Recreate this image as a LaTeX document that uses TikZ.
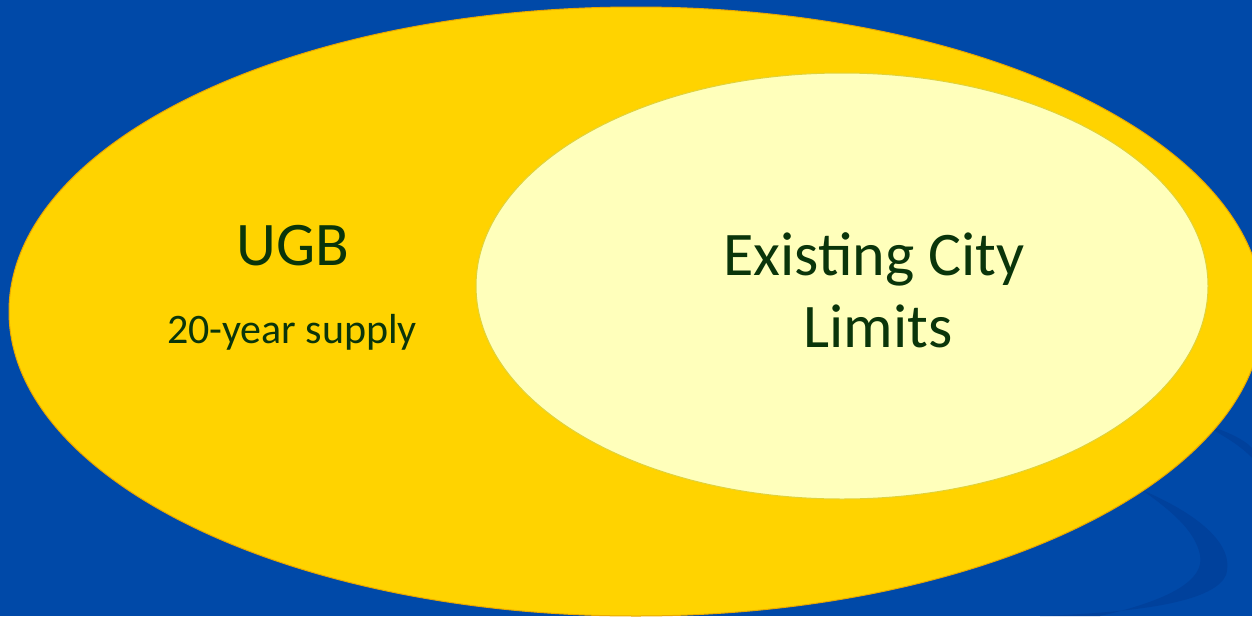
\documentclass[tikz,border=0pt]{standalone}
\usepackage{fontspec}
\setmainfont{Carlito}
\definecolor{bgblue}{HTML}{0049A8}
\definecolor{swoosh}{HTML}{00419C}
\definecolor{ugbyellow}{HTML}{FFD300}
\definecolor{ugbedge}{HTML}{E9A800}
\definecolor{cityfill}{HTML}{FFFFBB}
\definecolor{cityedge}{HTML}{E0D23A}
\definecolor{txtgreen}{HTML}{0A350A}
\tikzset{
  region/.style={line width=1pt},
  bigtxt/.style={text=txtgreen, font=\fontsize{62}{72}\selectfont, inner sep=0pt, align=center},
  smalltxt/.style={text=txtgreen, font=\fontsize{42}{50}\selectfont, inner sep=0pt},
}
\begin{document}
\begin{tikzpicture}[x=1pt,y=-1pt]
  \useasboundingbox (0,0) rectangle (1252,616);
  \fill[bgblue] (0,0) rectangle (1252,616);
  % faint swoosh
  \fill[swoosh] (1142,490) .. controls (1200,515) and (1235,545) .. (1226,575)
     .. controls (1215,600) and (1150,612) .. (1040,616)
     -- (1100,616) .. controls (1170,600) and (1205,580) .. (1200,555)
     .. controls (1195,530) and (1170,510) .. (1142,490) -- cycle;
  \fill[swoosh] (1205,425) .. controls (1225,430) and (1245,440) .. (1252,448)
     -- (1252,458) .. controls (1240,445) and (1225,437) .. (1205,425) -- cycle;
  % outer UGB ellipse
  \draw[region, fill=ugbyellow, draw=ugbedge] (636,311.5) ellipse [x radius=627, y radius=304.5];
  % inner city ellipse
  \draw[region, fill=cityfill, draw=cityedge] (842,286) ellipse [x radius=366, y radius=213];
  \node[bigtxt, anchor=base] (ugb) at (293,265) {UGB};
  \node[smalltxt, anchor=base] (supply) at (292,343) {20-year supply};
  \node[bigtxt, anchor=base] (city) at (874,275) {Existing City};
  \node[bigtxt, anchor=base] (limits) at (878,347) {Limits};
\end{tikzpicture}
\end{document}
